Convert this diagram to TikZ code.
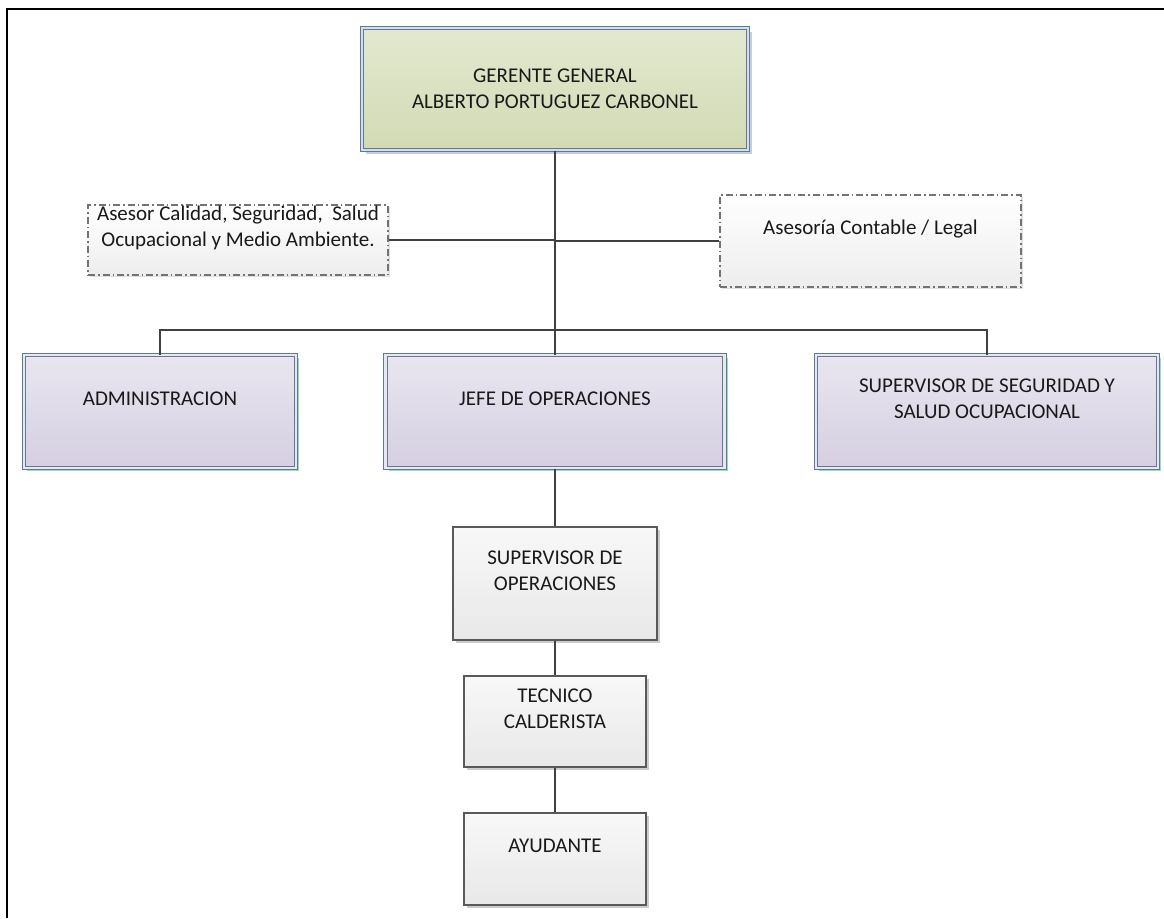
\documentclass[tikz,border=0pt]{standalone}
\usepackage{fontspec}
\setmainfont{Carlito}
\usepackage{tikz}
\usetikzlibrary{shadows}
\definecolor{geTop}{HTML}{E3E9D0}
\definecolor{geBot}{HTML}{D2DAB4}
\definecolor{puTop}{HTML}{E9E6F0}
\definecolor{puBot}{HTML}{D5CFE1}
\definecolor{grTop}{HTML}{F8F8F8}
\definecolor{grBot}{HTML}{E8E8E8}
\definecolor{frameBlue}{HTML}{5F7A99}
\definecolor{linkGray}{HTML}{404040}
\definecolor{greenShadow}{HTML}{8FD9A8}
\tikzset{
  boxtext/.style={font=\fontsize{21}{26}\selectfont, align=center, inner sep=0pt,
    text height=14pt, text depth=27pt, text=black!90},
  twoline/.style={text depth=1pt},
  topbox/.style={boxtext, text height=40pt, text depth=1pt, top color=geTop, bottom color=geBot,
    draw=frameBlue, line width=1pt, double=frameBlue!25, double distance=2.8pt,
    drop shadow={shadow xshift=4pt, shadow yshift=-4pt, fill=frameBlue!60, opacity=0.6}},
  mainbox/.style={boxtext, top color=puTop, bottom color=puBot,
    draw=frameBlue, line width=1pt, double=puTop, double distance=2.8pt,
    drop shadow={shadow xshift=3pt, shadow yshift=-3pt, fill=greenShadow, opacity=0.9}},
  opbox/.style={boxtext, top color=grTop, bottom color=grBot,
    draw=black!65, line width=1.3pt,
    drop shadow={shadow xshift=3pt, shadow yshift=-3pt, fill=black!40, opacity=0.5}},
  advbox/.style={boxtext, top color=white, bottom color=black!7,
    draw=black!55, line width=1.3pt, dash pattern=on 7pt off 3pt on 1.5pt off 3pt,
    drop shadow={shadow xshift=2pt, shadow yshift=-2pt, fill=black!25, opacity=0.5}},
  link/.style={draw=linkGray, line width=2pt}
}
\begin{document}
\begin{tikzpicture}[x=1pt,y=-1pt]
\useasboundingbox (0,0) rectangle (1164,918);
\draw[line width=2.5pt] (7,918) -- (7,9) -- (1164,9);

\node[topbox, minimum width=386pt, minimum height=122pt] (ger) at (555,89)
  {GERENTE GENERAL\\ALBERTO PORTUGUEZ CARBONEL};
\node[advbox, twoline, minimum width=300pt, minimum height=70pt] (cal) at (238,240)
  {Asesor Calidad, Seguridad,\ \ Salud\\Ocupacional y Medio Ambiente.};
\node[advbox, minimum width=301pt, minimum height=92pt] (cont) at (870.5,241)
  {Asesoría Contable / Legal};
\node[mainbox, minimum width=272pt, minimum height=113pt] (adm) at (160,411.5)
  {ADMINISTRACION};
\node[mainbox, minimum width=339pt, minimum height=113pt] (jefe) at (555,411.5)
  {JEFE DE OPERACIONES};
\node[mainbox, twoline, minimum width=342pt, minimum height=113pt] (seg) at (987,411.5)
  {SUPERVISOR DE SEGURIDAD Y\\SALUD OCUPACIONAL};
\node[opbox, twoline, minimum width=204pt, minimum height=113pt] (supop) at (555,583.5)
  {SUPERVISOR DE\\OPERACIONES};
\node[opbox, twoline, minimum width=182pt, minimum height=91pt] (tec) at (555,721.5)
  {TECNICO\\CALDERISTA};
\node[opbox, minimum width=182pt, minimum height=92pt] (ayu) at (555,859)
  {AYUDANTE};
\coordinate (bus) at (555,330);

\draw[link] (ger.south) -- (jefe.north);
\draw[link] (cal.east) -- (cal.east -| ger.south);
\draw[link] (cont.west) -- (cont.west -| ger.south);
\draw[link] (adm.north) |- (bus) -| (seg.north);
\draw[link] (jefe.south) -- (supop.north);
\draw[link] (supop.south) -- (tec.north);
\draw[link] (tec.south) -- (ayu.north);
\end{tikzpicture}
\end{document}
